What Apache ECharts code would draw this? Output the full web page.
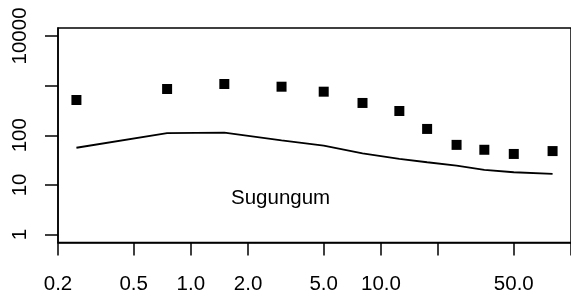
<!DOCTYPE html>
<html>
<head>
<meta charset="utf-8">
<script src="https://cdn.jsdelivr.net/npm/echarts@6/dist/echarts.min.js"></script>
<style>html,body{margin:0;padding:0;background:#fff}#c{width:571px;height:302px}</style>
</head>
<body>
<div id="c"></div>
<script>
// Size classes (x) and values
const sizes = [0.25, 0.75, 1.5, 3, 5, 8, 12.5, 17.5, 25, 35, 50, 80];
const observed = [513, 855, 1077, 950, 754, 447, 308, 134, 64, 51, 42, 48];
const modelled = [56, 110, 113, 79, 62, 43, 33.4, 28.6, 24.5, 20, 18, 16.6];
const xTickValues = [0.2, 0.5, 1, 2, 5, 10, 20, 50, 100];
const xLabelValues = [0.2, 0.5, 1, 2, 5, 10, 50];
const yTickValues = [1, 10, 100, 1000, 10000];
const yLabelValues = [1, 10, 100, 10000];
const annotation = 'Sugungum';

const font = 'Liberation Sans, Arial, Helvetica, sans-serif';
const chart = echarts.init(document.getElementById('c'), null, {renderer: 'canvas'});
chart.setOption({
  animation: false,
  backgroundColor: '#fff',
  grid: {left: 58, top: 28, right: -1, bottom: 59.5, show: true, borderColor: '#000', borderWidth: 1.5, containLabel: false},
  xAxis: {
    type: 'log', logBase: 10, min: 0.2, max: 100,
    axisLine: {show: true, onZero: false, lineStyle: {color: '#000', width: 1.5}},
    axisTick: {show: true, inside: false, length: 13, customValues: xTickValues, lineStyle: {color: '#000', width: 1.5}},
    axisLabel: {customValues: xLabelValues, margin: 31, color: '#000', fontSize: 20.5, fontFamily: font,
      formatter: v => Number(v).toFixed(1)},
    splitLine: {show: false}, minorTick: {show: false}
  },
  yAxis: {
    type: 'log', logBase: 10, min: Math.pow(10, -0.16), max: Math.pow(10, 4.16),
    axisLine: {show: true, onZero: false, lineStyle: {color: '#000', width: 1.5}},
    axisTick: {show: true, inside: false, length: 13, customValues: yTickValues, lineStyle: {color: '#000', width: 1.5}},
    axisLabel: {customValues: yLabelValues, rotate: 90, margin: 27, color: '#000', fontSize: 20.5, fontFamily: font,
      formatter: v => String(Math.round(v))},
    splitLine: {show: false}
  },
  graphic: [{
    type: 'text', left: 231, top: 188,
    style: {text: annotation, fill: '#000', font: '20.5px ' + font}
  }],
  series: [
    {type: 'scatter', symbol: 'rect', symbolSize: 10, itemStyle: {color: '#000', opacity: 1},
     data: sizes.map((s, i) => [s, observed[i]])},
    {type: 'line', symbol: 'none', smooth: false, lineStyle: {color: '#000', width: 1.8},
     data: sizes.map((s, i) => [s, modelled[i]])}
  ]
});
</script>
</body>
</html>
